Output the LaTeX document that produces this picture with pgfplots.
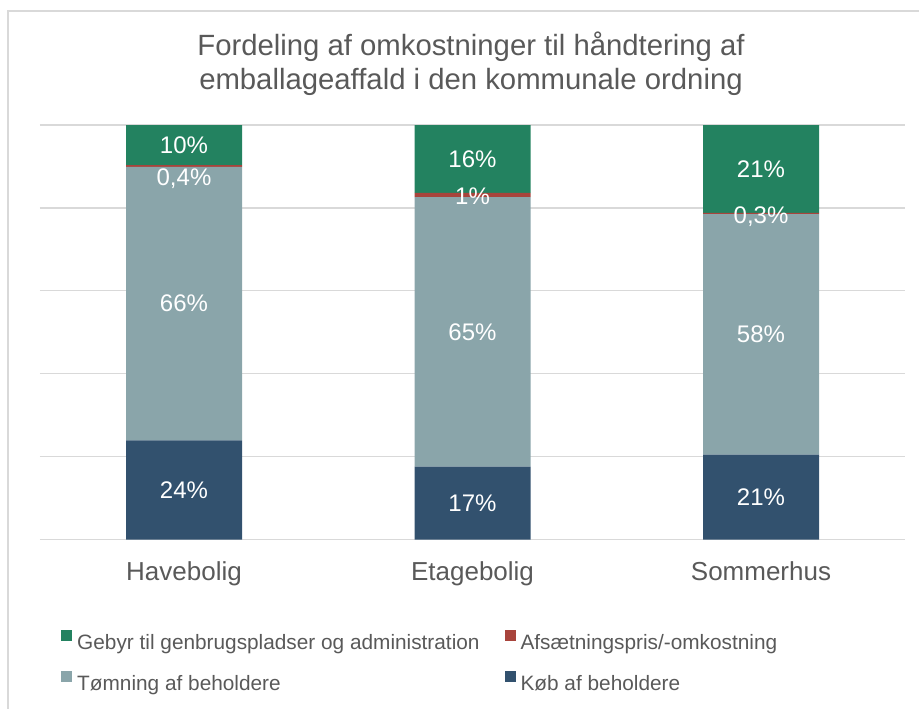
\documentclass[border=0pt]{standalone}
\usepackage{pgfplots}
\pgfplotsset{compat=1.18}
\usepackage{pgfplotstable}
\usepackage{fontspec}
\setmainfont{Liberation Sans}
\definecolor{cGreen}{RGB}{35,130,96}
\definecolor{cRed}{RGB}{168,68,60}
\definecolor{cGray}{RGB}{138,165,170}
\definecolor{cDark}{RGB}{50,81,110}
\definecolor{cText}{RGB}{89,89,89}
\definecolor{cGrid}{RGB}{217,217,217}
\pgfplotstableread{
x kob tom afs geb
0 23.9 66.0 0.4 9.7
1 17.6 65.0 1.0 16.4
2 20.5 58.0 0.3 21.2
}\costs
\pgfplotstableread{
x y label
0 11.95 24\%
0 56.9 66\%
0 87.0 0,4\%
0 95.2 10\%
1 8.8 17\%
1 50.1 65\%
1 82.9 1\%
1 91.8 16\%
2 10.25 21\%
2 49.5 58\%
2 78.0 0,3\%
2 89.4 21\%
}\labels
\begin{document}
\begin{tikzpicture}
\path[use as bounding box] (0pt,0pt) rectangle (919pt,-709pt);
\draw[cGrid, line width=1.5pt] (8pt,-709pt) -- (8pt,-11pt) -- (919pt,-11pt);
\node[text=cText, align=center, font=\fontsize{29.3}{34}\selectfont] at (471pt,-64pt) {Fordeling af omkostninger til håndtering af\\emballageaffald i den kommunale ordning};
\begin{axis}[
  at={(39.75pt,-539.5pt)}, anchor=south west,
  scale only axis, width=865.5pt, height=414.5pt,
  ybar stacked, bar width=116pt,
  xmin=-0.5, xmax=2.5, ymin=0, ymax=100,
  xtick={0,1,2}, xticklabels={Havebolig,Etagebolig,Sommerhus},
  ytick={0,20,...,100}, yticklabels={},
  ymajorgrids, grid style={cGrid, line width=1.2pt},
  axis line style={draw=none},
  major tick length=0pt,
  xticklabel style={font=\fontsize{26}{30}\selectfont, text=cText, yshift=-19pt},
  legend columns=2, reverse legend, legend cell align=left,
  legend image code/.code={\fill[#1] (0pt,1.5pt) rectangle (11pt,12.5pt);},
  legend style={at={(0.0246,-0.219)}, anchor=north west, draw=none, fill=none,
    inner sep=0pt, font=\fontsize{20.8}{24}\selectfont, text=cText,
    nodes={inner sep=0pt}, row sep=20pt,
    /tikz/every odd column/.append style={column sep=5pt},
    /tikz/every even column/.append style={column sep=25pt}},
]
\addplot[fill=cDark, draw=none] table[x=x, y=kob] {\costs};
\addlegendentry{Køb af beholdere}
\addplot[fill=cGray, draw=none] table[x=x, y=tom] {\costs};
\addlegendentry{Tømning af beholdere}
\addplot[fill=cRed, draw=none] table[x=x, y=afs] {\costs};
\addlegendentry{Afsætningspris/-omkostning}
\addplot[fill=cGreen, draw=none] table[x=x, y=geb] {\costs};
\addlegendentry{Gebyr til genbrugspladser og administration}
\end{axis}
\begin{axis}[
  at={(39.75pt,-539.5pt)}, anchor=south west,
  scale only axis, width=865.5pt, height=414.5pt,
  xmin=-0.5, xmax=2.5, ymin=0, ymax=100,
  hide axis, clip=false,
]
\addplot[only marks, mark=none, nodes near coords, point meta=explicit symbolic,
  every node near coord/.append style={text=white, font=\fontsize{24}{28}\selectfont, anchor=center, inner sep=0pt}]
  table[x=x, y=y, meta=label] {\labels};
\end{axis}
\end{tikzpicture}
\end{document}
